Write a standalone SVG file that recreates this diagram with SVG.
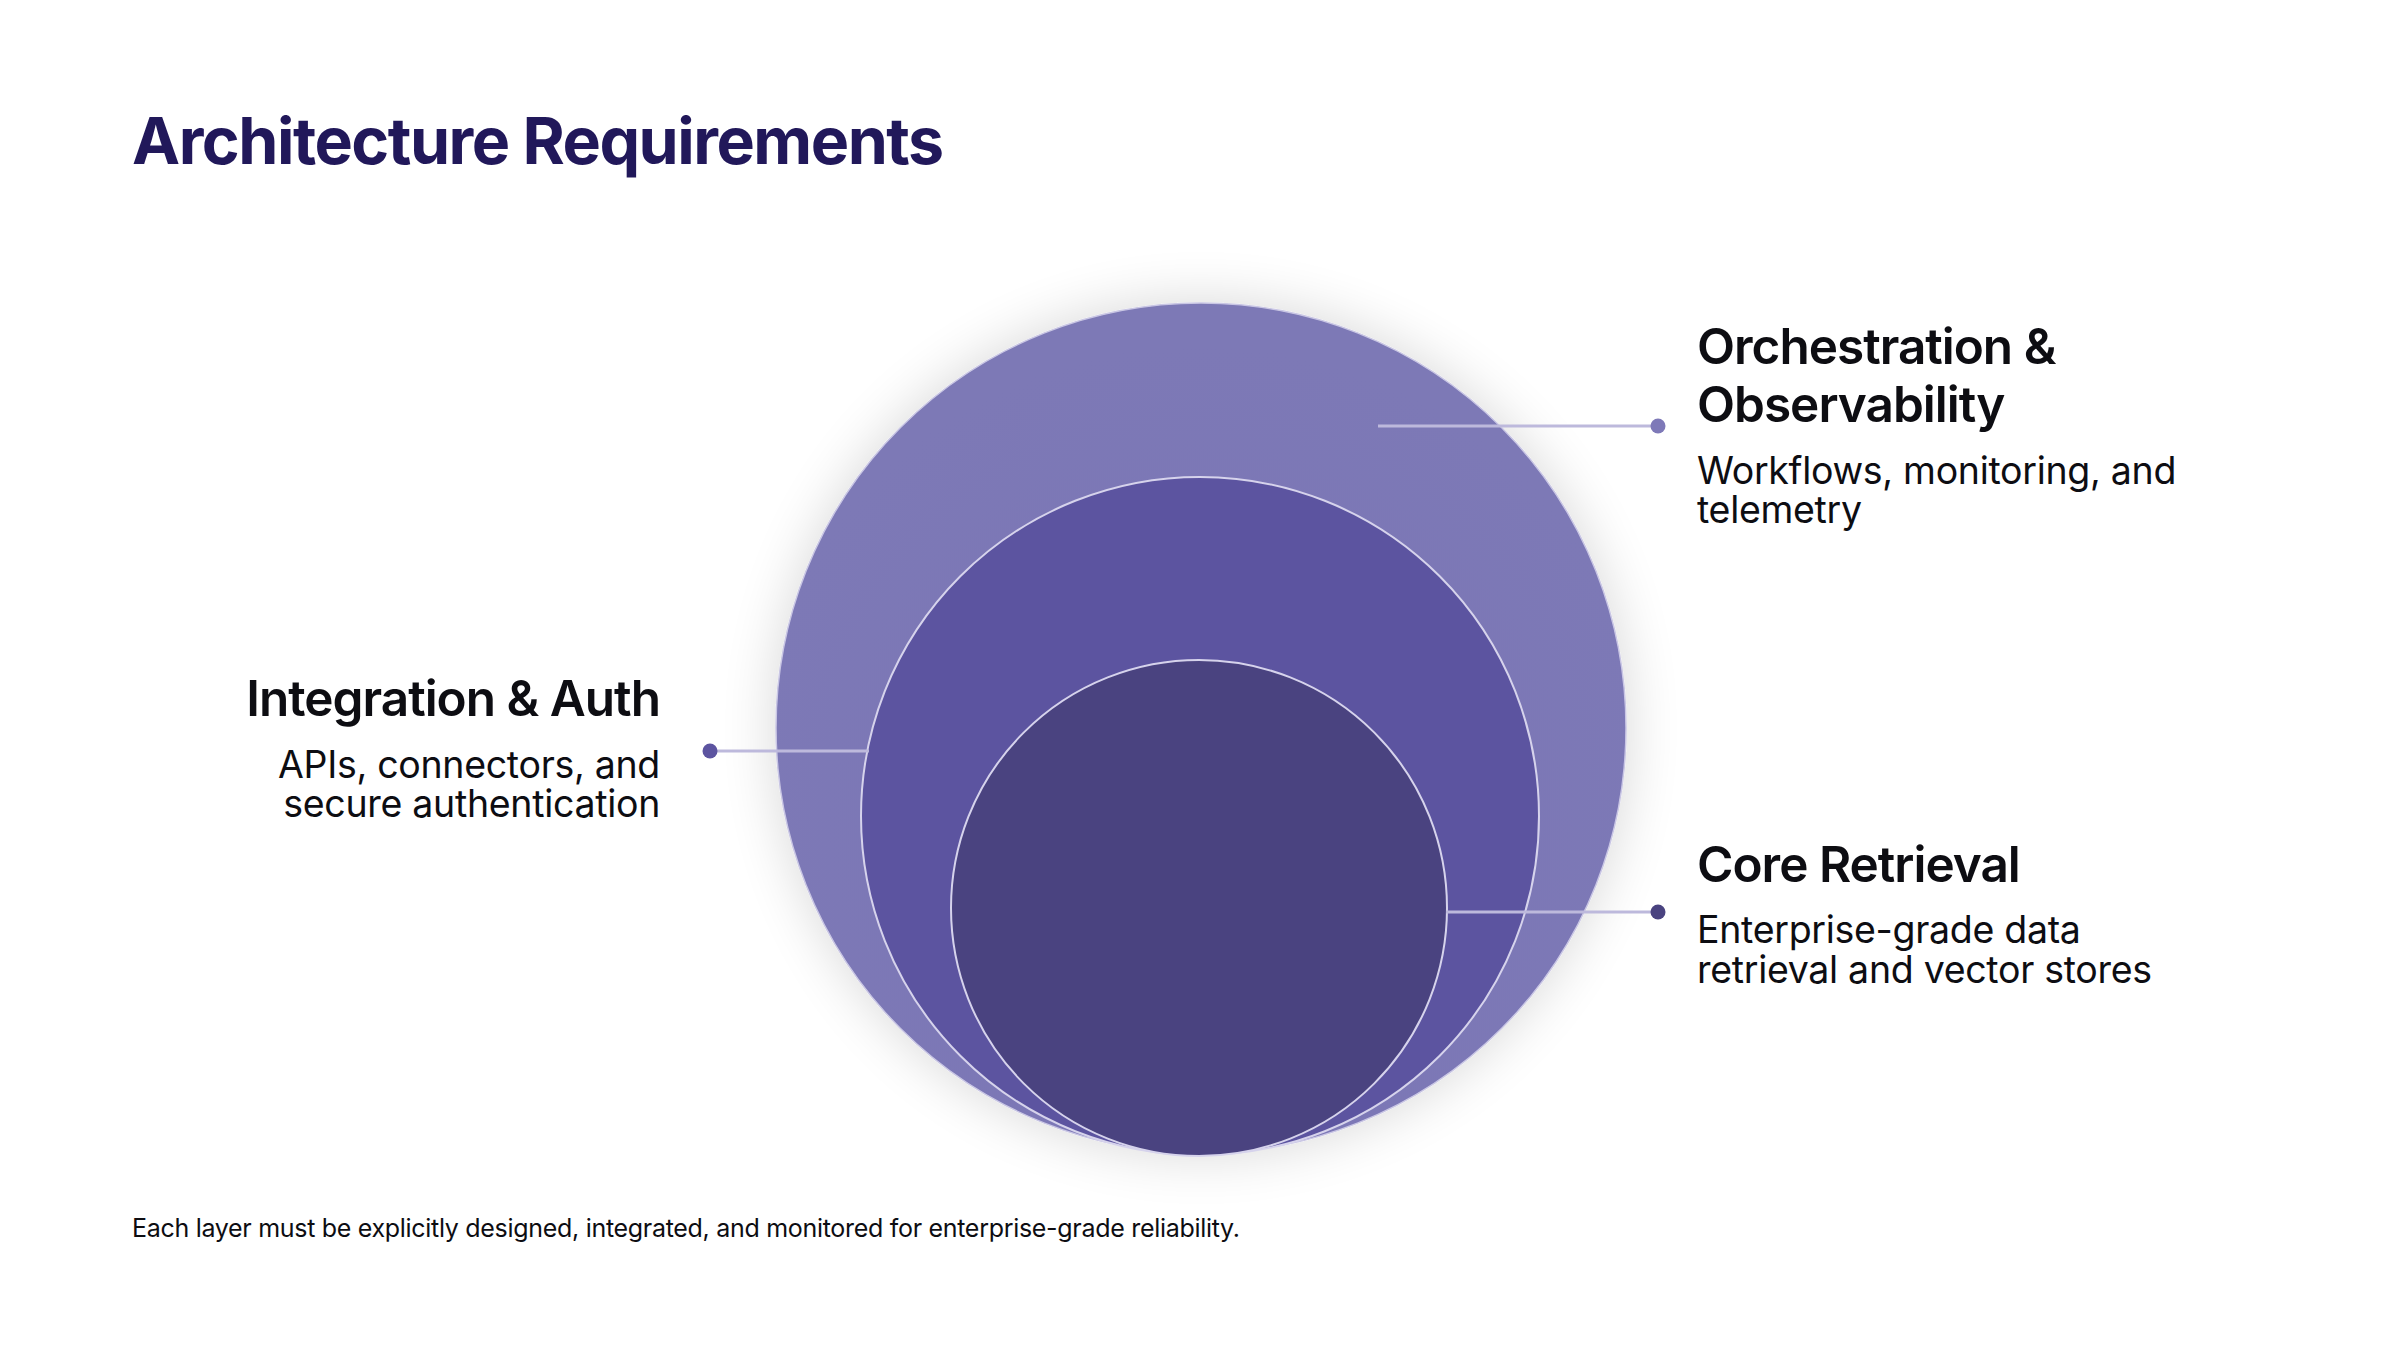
<svg xmlns="http://www.w3.org/2000/svg" width="2400" height="1350" viewBox="0 0 2400 1350">
  <style>
    .title { font-family: Inter, "Liberation Sans", sans-serif; font-weight: 700; font-size: 64.5px; fill: #21185A; letter-spacing: -1.5px; }
    .head { font-family: Inter, "Liberation Sans", sans-serif; font-weight: 600; font-size: 49.5px; fill: #0D0D12; letter-spacing: -1px; }
    .desc { font-family: Inter, "Liberation Sans", sans-serif; font-weight: 400; font-size: 37.5px; fill: #0D0D12; letter-spacing: -0.3px; }
    .foot { font-family: Inter, "Liberation Sans", sans-serif; font-weight: 400; font-size: 25px; fill: #0D0D12; letter-spacing: -0.3px; }
    .conn { stroke: #BDB9DC; stroke-width: 3; fill: none; }
    .ring { stroke: #D6D3EC; stroke-width: 2; }
  </style>
  <defs>
    <filter id="glow" x="-30%" y="-30%" width="160%" height="160%">
      <feGaussianBlur in="SourceAlpha" stdDeviation="28"/>
      <feComponentTransfer><feFuncA type="linear" slope="0.16"/></feComponentTransfer>
      <feMerge><feMergeNode/><feMergeNode in="SourceGraphic"/></feMerge>
    </filter>
    <radialGradient id="gOuter" cx="0.5" cy="0.6" r="0.55">
      <stop offset="0" stop-color="#7A74B6"/>
      <stop offset="1" stop-color="#7D79B6"/>
    </radialGradient>
  </defs>
  <rect width="2400" height="1350" fill="#FFFFFF"/>

  <text class="title" x="132" y="164">Architecture Requirements</text>

  <g id="outer-layer">
    <circle cx="1201" cy="728" r="425" fill="url(#gOuter)" stroke="#C9C6E4" stroke-width="1.5" filter="url(#glow)"/>
  </g>
  <g id="middle-layer">
    <circle class="ring" cx="1200" cy="816" r="339" fill="#5C54A0"/>
  </g>
  <g id="inner-layer">
    <circle class="ring" cx="1199" cy="908" r="248" fill="#4A4380"/>
  </g>

  <g id="connectors">
    <line class="conn" x1="1378" y1="426" x2="1658" y2="426"/>
    <line class="conn" x1="710" y1="751" x2="869" y2="751"/>
    <line class="conn" x1="1446" y1="912" x2="1658" y2="912"/>
    <circle cx="1658" cy="426" r="7.5" fill="#7E79B8"/>
    <circle cx="710" cy="751" r="7.5" fill="#5C54A0"/>
    <circle cx="1658" cy="912" r="7.5" fill="#4A4380"/>
  </g>

  <g id="label-orchestration">
    <text class="head" x="1697" y="364">Orchestration &amp;</text>
    <text class="head" x="1697" y="422">Observability</text>
    <text class="desc" x="1697" y="484">Workflows, monitoring, and</text>
    <text class="desc" x="1697" y="523">telemetry</text>
  </g>
  <g id="label-integration">
    <text class="head" x="660" y="716" text-anchor="end">Integration &amp; Auth</text>
    <text class="desc" x="660" y="778" text-anchor="end">APIs, connectors, and</text>
    <text class="desc" x="660" y="817" text-anchor="end">secure authentication</text>
  </g>
  <g id="label-core">
    <text class="head" x="1697" y="882">Core Retrieval</text>
    <text class="desc" x="1697" y="943">Enterprise-grade data</text>
    <text class="desc" x="1697" y="983">retrieval and vector stores</text>
  </g>

  <text class="foot" x="132" y="1237">Each layer must be explicitly designed, integrated, and monitored for enterprise-grade reliability.</text>
</svg>
